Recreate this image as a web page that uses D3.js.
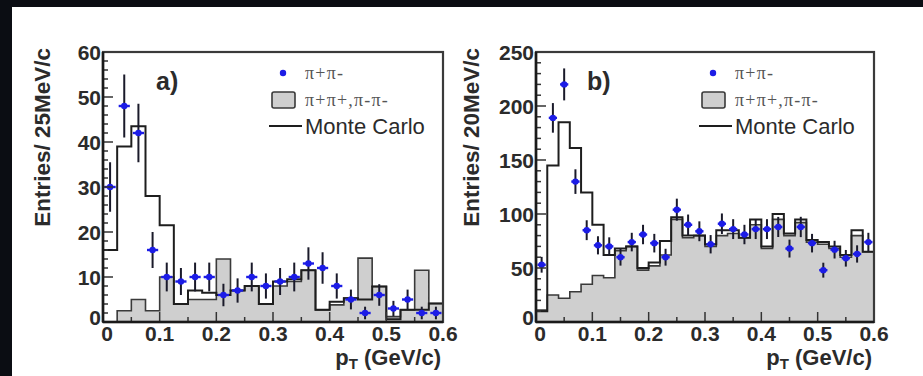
<!DOCTYPE html>
<html><head><meta charset="utf-8">
<script src="https://cdn.jsdelivr.net/npm/d3@7"></script>
<style>html,body{margin:0;padding:0;background:#fff;} svg{display:block;}</style>
</head><body>
<svg id="c" width="923" height="376"></svg>
<script>
// ---------- data ----------
const xTicks = [0, 0.1, 0.2, 0.3, 0.4, 0.5, 0.6];
const xTickLabels = ["0", "0.1", "0.2", "0.3", "0.4", "0.5", "0.6"];
const legendLabels = ["\u03c0+\u03c0-", "\u03c0+\u03c0+,\u03c0-\u03c0-", "Monte Carlo"];

// panel a) 25 MeV/c bins
const aBinWidth = 0.025;
const aYTicks = [0, 10, 20, 30, 40, 50, 60];
const aYTickLabels = ["0", "10", "20", "30", "40", "50", "60"];
const aOpposite = [30, 48, 42, 16, 10, 9, 10, 10, 6, 7, 10, 8, 9, 10, 13, 12, 8, 5, 2, 6, 3, 5, 2, 2];
const aOppErr   = [5.5, 7, 6.5, 4, 3.2, 3, 3.2, 3.2, 2.5, 2.7, 3.2, 2.8, 3, 3.2, 3.6, 3.5, 2.8, 2.2, 1.4, 2.4, 1.7, 2.2, 1.4, 1.4];
const aSameSign = [0, 2.5, 5, 2.5, 10, 4, 5, 5, 14, 7, 8, 4, 8, 9, 11.5, 2.7, 3.8, 5.3, 14.2, 7.9, 1.2, 2.7, 11.5, 4.1];
const aMC       = [16, 39, 43.5, 28, 21.5, 4, 7, 6.5, 6, 7, 8, 4, 9, 9.5, 11.5, 2.7, 4.5, 5.3, 5, 7.9, 0.6, 2.7, 2.7, 4.1];

// panel b) 20 MeV/c bins
const bBinWidth = 0.02;
const bYTicks = [0, 50, 100, 150, 200, 250];
const bYTickLabels = ["0", "50", "100", "150", "200", "250"];
const bOpposite = [53, 189, 220, 130, 85, 71, 70, 60, 74, 81, 73, 60, 104, 90, 84, 72, 91, 86, 81, 86, 86, 88, 68, 88, 73, 48, 67, 59, 63, 74];
const bOppErr   = [7.3, 13.7, 14.8, 11.4, 9.2, 8.4, 8.4, 7.8, 8.6, 9, 8.6, 7.8, 10.2, 9.5, 9.2, 8.5, 9.5, 9.2, 9, 9.2, 9.2, 9.3, 8.3, 9.4, 8.6, 6.9, 8.2, 7.7, 8, 8.6];
const bSameSign = [11, 25, 22, 28, 35, 43, 41, 66, 70, 48, 52, 62, 95, 78, 80, 70, 80, 82, 78, 90, 68, 95, 80, 92, 74, 72, 68, 60, 80, 65];
const bMC       = [10, 145, 185, 161, 120, 90, 62, 68, 70, 50, 55, 75, 97, 80, 80, 72, 85, 85, 78, 95, 70, 100, 82, 95, 76, 74, 70, 62, 85, 65];

// ---------- layout ----------
const panels = [
  { label: "a)", yTitle: "Entries/ 25MeV/c", binW: aBinWidth, yMax: 60, yTicks: aYTicks, yTickLabels: aYTickLabels, yMinorStep: 2,
    opp: aOpposite, err: aOppErr, same: aSameSign, mc: aMC,
    left: 103, right: 443, top: 52, bottom: 322, titleX: 42, labelX: 156, legX: 305 },
  { label: "b)", yTitle: "Entries/ 20MeV/c", binW: bBinWidth, yMax: 250, yTicks: bYTicks, yTickLabels: bYTickLabels, yMinorStep: 10,
    opp: bOpposite, err: bOppErr, same: bSameSign, mc: bMC,
    left: 536, right: 874, top: 52, bottom: 322, titleX: 471, labelX: 587, legX: 735 }
];

const svg = d3.select("#c");
svg.append("rect").attr("width", 923).attr("height", 376).attr("fill", "#ffffff");
// dark surround (left and top)
svg.append("rect").attr("x", 0).attr("y", 0).attr("width", 12).attr("height", 376).attr("fill", "#0b0d13");
svg.append("rect").attr("x", 0).attr("y", 0).attr("width", 923).attr("height", 7).attr("fill", "#0b0d13");

const FONT = "'Liberation Sans', Arial, Helvetica, sans-serif";
const TXT = "#2b2b2b";
const BLUE = "#1c1ce6";

panels.forEach(p => {
  const x = d3.scaleLinear().domain([0, 0.6]).range([p.left, p.right]);
  const y = d3.scaleLinear().domain([0, p.yMax]).range([p.bottom, p.top]);
  const g = svg.append("g");
  const n = p.opp.length;
  const edges = d3.range(n + 1).map(i => i * p.binW);

  const stepPts = v => {
    const pts = [[edges[0], 0]];
    v.forEach((d, i) => { pts.push([edges[i], d]); pts.push([edges[i + 1], d]); });
    pts.push([edges[n], 0]);
    return pts;
  };
  const line = d3.line().x(d => x(d[0])).y(d => y(d[1]));

  // same-sign histogram (filled)
  g.append("path").attr("d", line(stepPts(p.same)) + "Z")
    .attr("fill", "#cfcfcf").attr("stroke", "#3a3a3a").attr("stroke-width", 1.6);

  // Monte Carlo line
  g.append("path").attr("d", line(stepPts(p.mc)))
    .attr("fill", "none").attr("stroke", "#1e1e1e").attr("stroke-width", 2);

  // data points
  const pts = g.append("g");
  p.opp.forEach((v, i) => {
    const cx = x(edges[i] + p.binW / 2);
    pts.append("line").attr("x1", cx).attr("x2", cx)
      .attr("y1", y(v - p.err[i])).attr("y2", y(v + p.err[i]))
      .attr("stroke", "#1a1a2a").attr("stroke-width", 2);
    pts.append("line").attr("x1", x(edges[i]) + 1.5).attr("x2", x(edges[i + 1]) - 1.5)
      .attr("y1", y(v)).attr("y2", y(v))
      .attr("stroke", BLUE).attr("stroke-width", 2.4);
    pts.append("circle").attr("cx", cx).attr("cy", y(v)).attr("r", 3.2).attr("fill", BLUE);
  });

  // ticks (inside)
  const tk = g.append("g").attr("stroke", "#333").attr("stroke-width", 1.5);
  d3.range(0, p.yMax + 1e-9, p.yMinorStep).forEach(t => {
    const major = p.yTicks.includes(t);
    tk.append("line").attr("x1", p.left).attr("x2", p.left + (major ? 10 : 5))
      .attr("y1", y(t)).attr("y2", y(t));
  });
  d3.range(0, 0.6 + 1e-9, 0.05).forEach(t => {
    const major = Math.abs(t * 10 - Math.round(t * 10)) < 1e-6;
    tk.append("line").attr("x1", x(t)).attr("x2", x(t))
      .attr("y1", p.bottom).attr("y2", p.bottom - (major ? 10 : 5));
  });

  // frame
  g.append("rect").attr("x", p.left).attr("y", p.top)
    .attr("width", p.right - p.left).attr("height", p.bottom - p.top)
    .attr("fill", "none").attr("stroke", "#3a3a3a").attr("stroke-width", 2.2);
  g.append("line").attr("x1", p.left).attr("x2", p.left).attr("y1", p.top).attr("y2", p.bottom)
    .attr("stroke", "#1a1a1a").attr("stroke-width", 2.6);
  g.append("line").attr("x1", p.left).attr("x2", p.right).attr("y1", p.bottom).attr("y2", p.bottom)
    .attr("stroke", "#1a1a1a").attr("stroke-width", 2.6);

  // tick labels
  p.yTicks.forEach((t, i) => {
    g.append("text").attr("x", p.left - 2).attr("y", y(t) + (t === 0 ? -5 : 0))
      .attr("text-anchor", "end").attr("dominant-baseline", "central")
      .attr("font-family", FONT).attr("font-weight", "bold").attr("font-size", 21)
      .attr("fill", TXT).text(p.yTickLabels[i]);
  });
  xTicks.forEach((t, i) => {
    g.append("text").attr("x", x(t) + (t === 0 ? 4 : 0)).attr("y", 341)
      .attr("text-anchor", "middle")
      .attr("font-family", FONT).attr("font-weight", "bold").attr("font-size", 21)
      .attr("fill", TXT).text(xTickLabels[i]);
  });

  // axis titles
  const xt = g.append("text").attr("x", p.right - 2).attr("y", 365).attr("text-anchor", "end")
    .attr("font-family", FONT).attr("font-weight", "bold").attr("font-size", 22).attr("fill", TXT);
  xt.append("tspan").text("p");
  xt.append("tspan").attr("dy", 4).attr("font-size", 15).text("T");
  xt.append("tspan").attr("dy", -4).text(" (GeV/c)");

  g.append("text").attr("transform", `translate(${p.titleX},${p.top - 4}) rotate(-90)`)
    .attr("text-anchor", "end").attr("dominant-baseline", "central")
    .attr("font-family", FONT).attr("font-weight", "bold").attr("font-size", 22.5)
    .attr("fill", TXT).text(p.yTitle);

  // panel label
  g.append("text").attr("x", p.labelX).attr("y", 90)
    .attr("font-family", FONT).attr("font-weight", "bold").attr("font-size", 25)
    .attr("fill", TXT).text(p.label);

  // legend
  const lx = p.legX;
  g.append("circle").attr("cx", lx - 22).attr("cy", 73).attr("r", 3.2).attr("fill", BLUE);
  g.append("rect").attr("x", lx - 33).attr("y", 92).attr("width", 23).attr("height", 16).attr("rx", 2)
    .attr("fill", "#cfcfcf").attr("stroke", "#3a3a3a").attr("stroke-width", 1.6);
  g.append("line").attr("x1", lx - 36).attr("x2", lx - 3).attr("y1", 126).attr("y2", 126)
    .attr("stroke", "#1e1e1e").attr("stroke-width", 2);
  const legY = [73, 100, 126];
  legendLabels.forEach((s, i) => {
    const t = g.append("text").attr("x", lx).attr("y", legY[i]).attr("dominant-baseline", "central")
      .attr("fill", i === 2 ? "#2b2b2b" : "#555").text(s);
    if (i < 2) t.attr("font-family", "'Liberation Serif', 'DejaVu Serif', serif").attr("font-size", 18).attr("letter-spacing", 1.2);
    else t.attr("font-family", FONT).attr("font-size", 22);
  });
});
</script>
</body></html>
